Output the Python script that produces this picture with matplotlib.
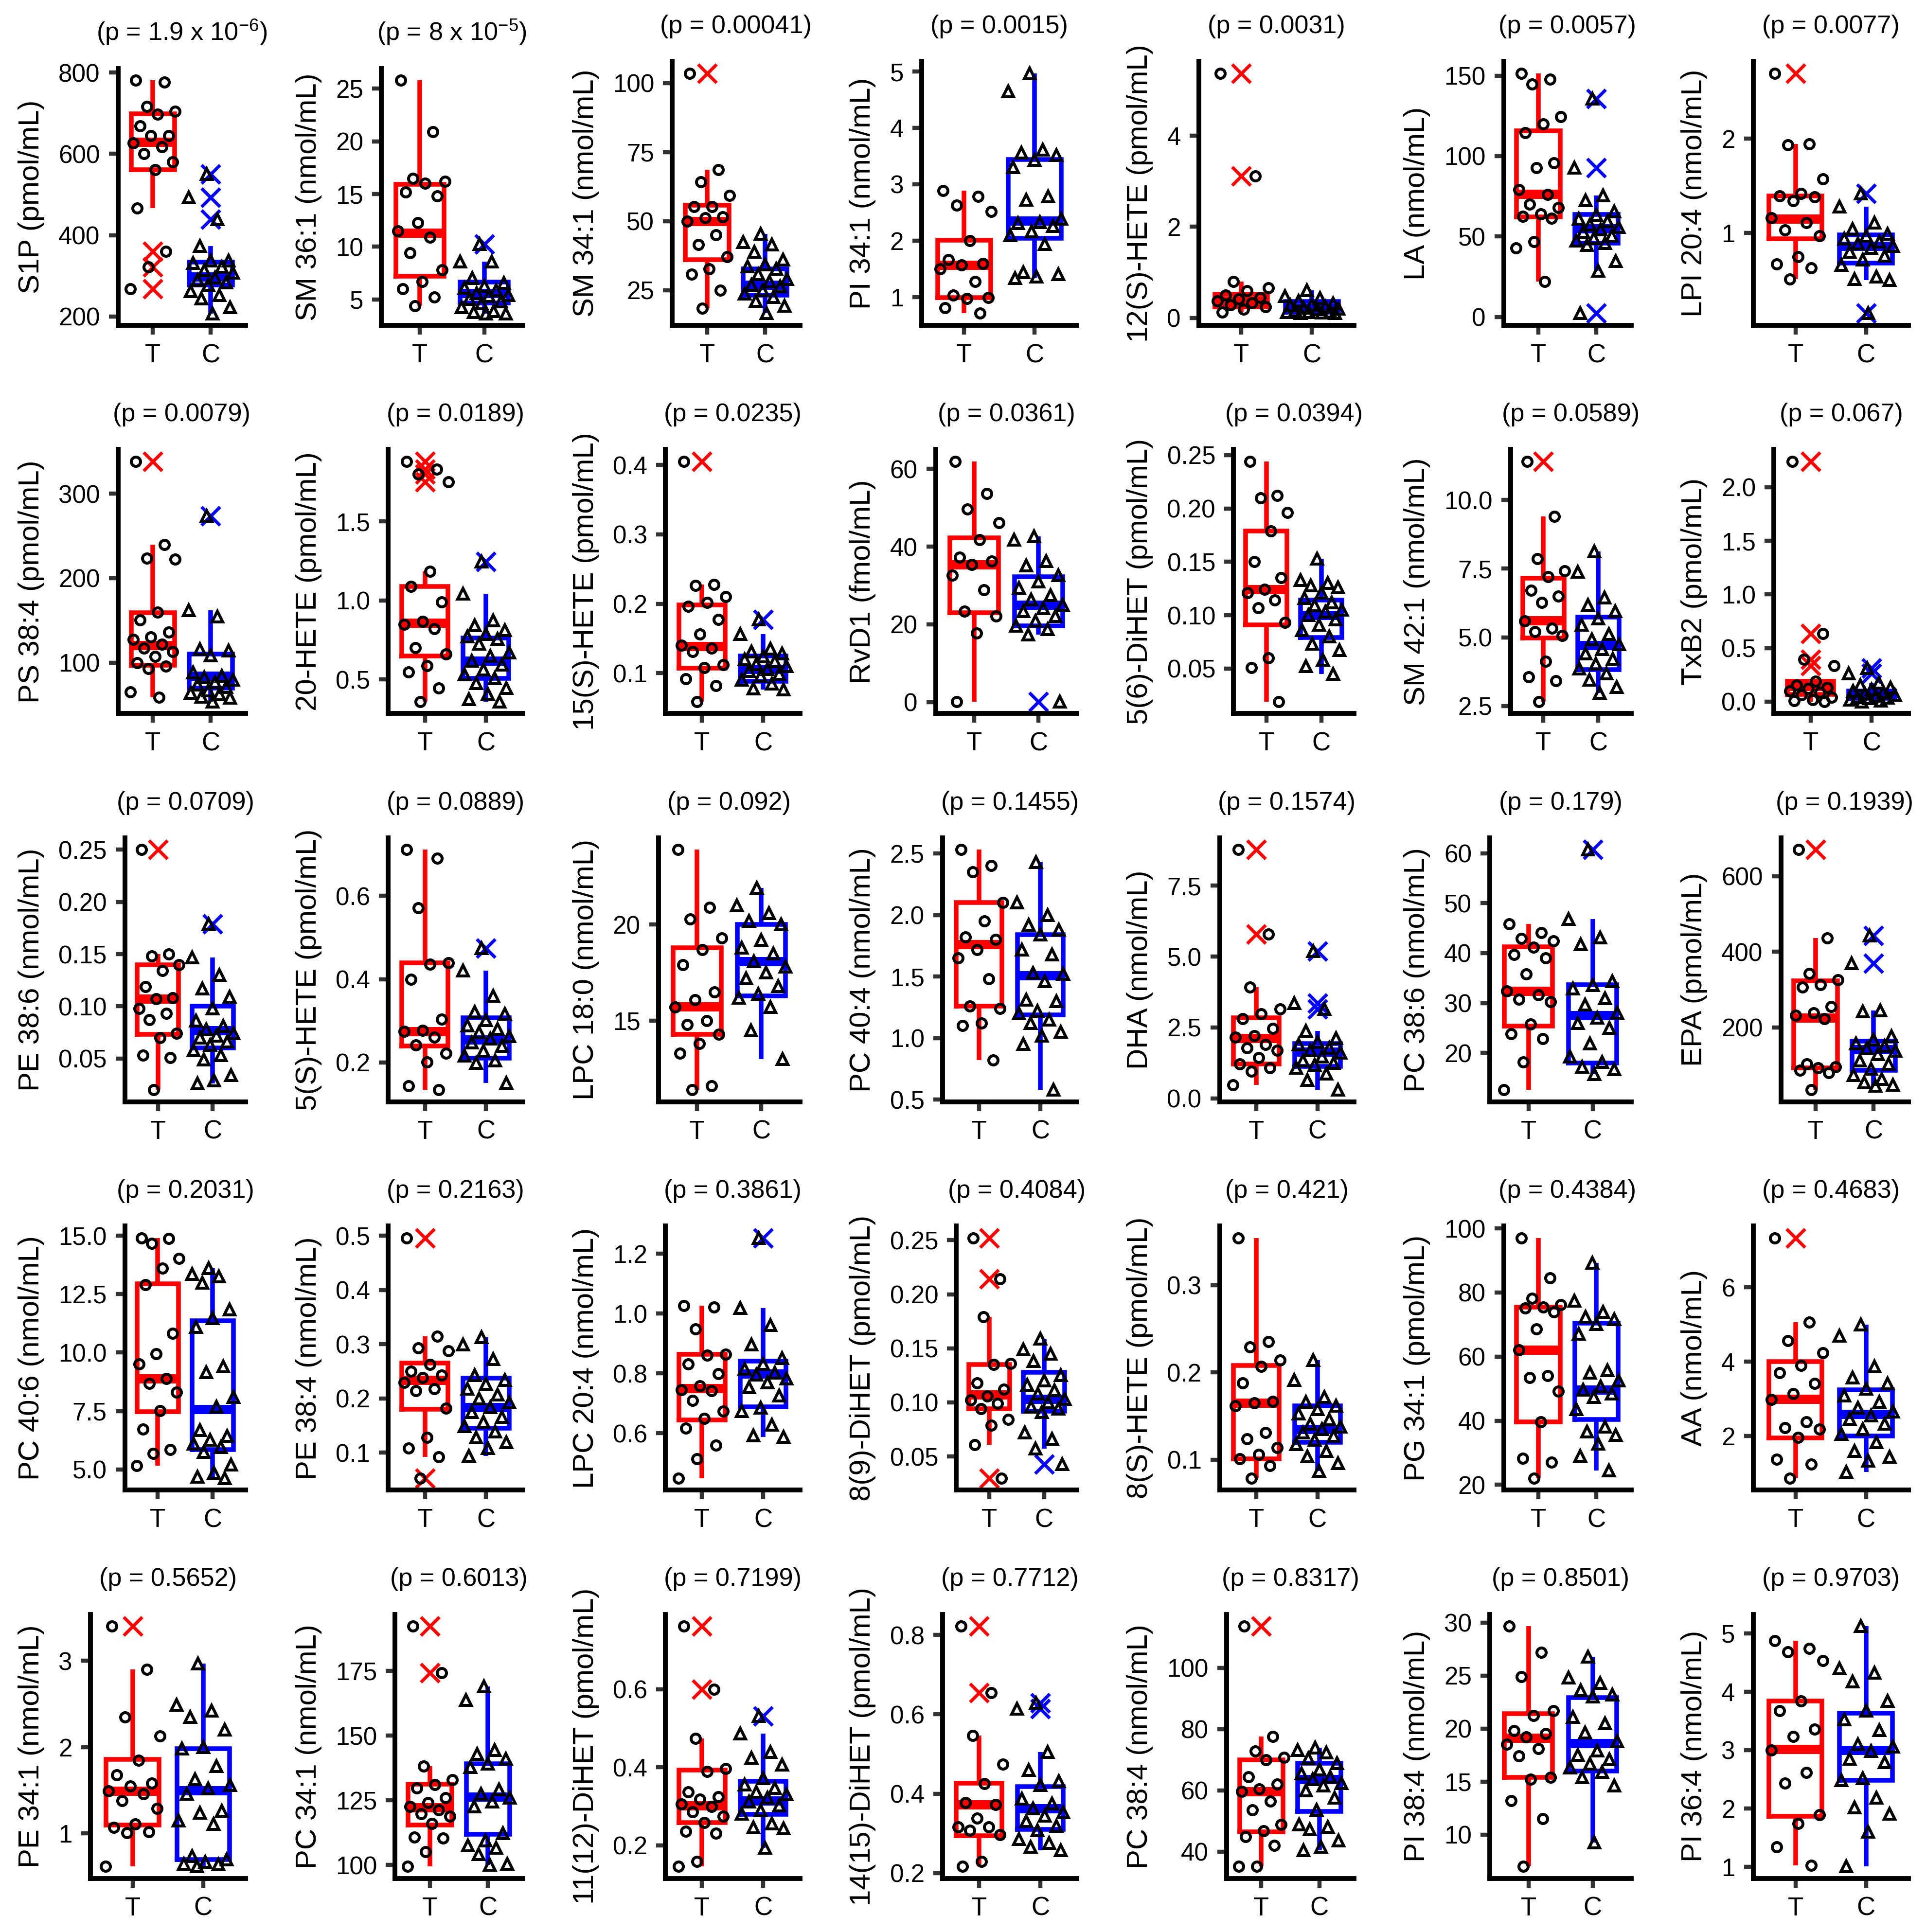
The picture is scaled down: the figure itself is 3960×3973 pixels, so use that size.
import numpy as np
import matplotlib
matplotlib.use('Agg')
import matplotlib.pyplot as plt

plt.rcParams['font.family'] = ['Liberation Sans', 'DejaVu Sans']
plt.rcParams['mathtext.fontset'] = 'custom'
plt.rcParams['mathtext.rm'] = 'Liberation Sans'
plt.rcParams['mathtext.it'] = 'Liberation Sans:italic'
plt.rcParams['mathtext.default'] = 'regular'

# ---------------- data ----------------
YLABELS = ["S1P (pmol/mL)", "SM 36:1 (nmol/mL)", "SM 34:1 (nmol/mL)", "PI 34:1 (nmol/mL)",
           "12(S)-HETE (pmol/mL)", "LA (nmol/mL)", "LPI 20:4 (nmol/mL)",
           "PS 38:4 (pmol/mL)", "20-HETE (pmol/mL)", "15(S)-HETE (pmol/mL)", "RvD1 (fmol/mL)",
           "5(6)-DiHET (pmol/mL)", "SM 42:1 (nmol/mL)", "TxB2 (pmol/mL)",
           "PE 38:6 (nmol/mL)", "5(S)-HETE (pmol/mL)", "LPC 18:0 (nmol/mL)", "PC 40:4 (nmol/mL)",
           "DHA (nmol/mL)", "PC 38:6 (nmol/mL)", "EPA (pmol/mL)",
           "PC 40:6 (nmol/mL)", "PE 38:4 (nmol/mL)", "LPC 20:4 (nmol/mL)", "8(9)-DiHET (pmol/mL)",
           "8(S)-HETE (pmol/mL)", "PG 34:1 (pmol/mL)", "AA (nmol/mL)",
           "PE 34:1 (nmol/mL)", "PC 34:1 (nmol/mL)", "11(12)-DiHET (pmol/mL)", "14(15)-DiHET (pmol/mL)",
           "PC 38:4 (nmol/mL)", "PI 38:4 (nmol/mL)", "PI 36:4 (nmol/mL)"]

P_TEXT = ["1.9 x 10$^{-6}$", "8 x 10$^{-5}$", "0.00041", "0.0015", "0.0031", "0.0057", "0.0077",
          "0.0079", "0.0189", "0.0235", "0.0361", "0.0394", "0.0589", "0.067",
          "0.0709", "0.0889", "0.092", "0.1455", "0.1574", "0.179", "0.1939",
          "0.2031", "0.2163", "0.3861", "0.4084", "0.421", "0.4384", "0.4683",
          "0.5652", "0.6013", "0.7199", "0.7712", "0.8317", "0.8501", "0.9703"]

GROUPS = ["T", "C"]

TICKS = [["200", "400", "600", "800"], ["5", "10", "15", "20", "25"], ["25", "50", "75", "100"],
         ["1", "2", "3", "4", "5"], ["0", "2", "4"], ["0", "50", "100", "150"], ["1", "2"],
         ["100", "200", "300"], ["0.5", "1.0", "1.5"], ["0.1", "0.2", "0.3", "0.4"], ["0", "20", "40", "60"],
         ["0.05", "0.10", "0.15", "0.20", "0.25"], ["2.5", "5.0", "7.5", "10.0"], ["0.0", "0.5", "1.0", "1.5", "2.0"],
         ["0.05", "0.10", "0.15", "0.20", "0.25"], ["0.2", "0.4", "0.6"], ["15", "20"],
         ["0.5", "1.0", "1.5", "2.0", "2.5"], ["0.0", "2.5", "5.0", "7.5"], ["20", "30", "40", "50", "60"],
         ["200", "400", "600"],
         ["5.0", "7.5", "10.0", "12.5", "15.0"], ["0.1", "0.2", "0.3", "0.4", "0.5"], ["0.6", "0.8", "1.0", "1.2"],
         ["0.05", "0.10", "0.15", "0.20", "0.25"], ["0.1", "0.2", "0.3"], ["20", "40", "60", "80", "100"],
         ["2", "4", "6"],
         ["1", "2", "3"], ["100", "125", "150", "175"], ["0.2", "0.4", "0.6"], ["0.2", "0.4", "0.6", "0.8"],
         ["40", "60", "80", "100"], ["10", "15", "20", "25", "30"], ["1", "2", "3", "4", "5"]]

# box statistics [q1, median, q3]
T_BOX = [[561, 629, 699], [7.2, 11.3, 15.93], [36.1, 49.9, 55.8], [0.99, 1.57, 2.01], [0.24, 0.37, 0.52],
         [62.3, 76.4, 115.6], [0.94, 1.15, 1.39],
         [97.1, 120.7, 159], [0.648, 0.858, 1.09], [0.107, 0.139, 0.198], [23, 35.4, 42.2],
         [0.091, 0.124, 0.179], [4.97, 5.61, 7.15], [0.068, 0.143, 0.189],
         [0.073, 0.107, 0.14], [0.239, 0.274, 0.439], [14.28, 15.73, 18.8], [1.26, 1.76, 2.1],
         [1.21, 2.12, 2.85], [25.4, 32.4, 41.3], [93, 226, 323],
         [7.47, 8.89, 12.95], [0.18, 0.234, 0.265], [0.645, 0.75, 0.864], [0.094, 0.107, 0.135],
         [0.101, 0.165, 0.208], [39.7, 62.1, 75.5], [1.94, 2.99, 4.0],
         [1.1, 1.49, 1.86], [115.4, 122.2, 131.3], [0.258, 0.302, 0.393], [0.294, 0.372, 0.426],
         [46.4, 59.6, 70], [15.4, 19.1, 21.4], [1.87, 3.02, 3.84]]

C_BOX = [[277, 298, 334], [4.65, 5.58, 6.67], [23.2, 26.8, 32.6], [2.04, 2.35, 3.44], [0.12, 0.21, 0.36],
         [46, 55, 63.8], [0.68, 0.86, 0.98],
         [69.8, 84.2, 110], [0.508, 0.617, 0.764], [0.088, 0.106, 0.125], [19.6, 25, 32.2],
         [0.079, 0.1, 0.114], [3.82, 4.71, 5.73], [0.03, 0.06, 0.098],
         [0.06, 0.077, 0.1], [0.21, 0.254, 0.307], [16.3, 18.1, 20.0], [1.19, 1.51, 1.84],
         [1.12, 1.64, 1.94], [18.0, 27.5, 33.7], [87, 142, 164],
         [5.84, 7.57, 11.36], [0.145, 0.184, 0.237], [0.689, 0.799, 0.842], [0.092, 0.103, 0.128],
         [0.12, 0.135, 0.162], [40.4, 49.6, 70.5], [2.0, 2.58, 3.24],
         [0.7, 1.5, 1.98], [111.8, 126.4, 139.2], [0.279, 0.314, 0.364], [0.31, 0.363, 0.418],
         [53.2, 63.6, 68.8], [16.0, 18.6, 22.9], [2.48, 3.0, 3.63]]

# boxplot outliers (crosses)
T_OUT = [[360, 322, 268], [], [103.5], [], [5.37, 3.11], [], [2.69],
         [338], [1.88, 1.83, 1.80, 1.75], [0.405], [], [], [11.4], [2.24, 0.632, 0.393, 0.336],
         [0.25], [], [], [], [8.77, 5.79], [], [670],
         [], [0.496, 0.053], [], [0.252, 0.214, 0.03], [], [], [7.33],
         [3.4], [192.2, 174.2], [0.761, 0.6], [0.822, 0.654], [113.6], [], []]

C_OUT = [[550, 493, 439], [10.25], [], [], [], [135.7, 92.7, 2.2], [1.42, 0.15],
         [273.5], [1.246], [0.177], [0.1], [], [], [0.31, 0.26],
         [0.179], [0.474], [], [], [5.19, 3.35, 3.15], [60.7], [443, 369],
         [], [], [1.253], [0.043], [], [], [],
         [], [], [0.531], [0.629, 0.614], [], [], []]

# all observations (jittered points)
T_PTS = [
    [781, 776, 716, 704, 697, 668, 645, 645, 627, 617, 601, 580, 561, 466, 360, 322, 268],
    [25.8, 20.9, 16.5, 16.2, 16.0, 15.2, 14.8, 12.3, 11.5, 10.9, 9.4, 7.8, 6.7, 6.0, 5.2, 4.4],
    [103.5, 68.5, 64.1, 59.2, 55.2, 55.2, 51.6, 51.2, 49.9, 45, 41.4, 37, 32.6, 30.8, 25, 18.4],
    [2.89, 2.78, 2.63, 2.52, 2.0, 1.66, 1.59, 1.57, 1.5, 1.27, 1.03, 0.99, 0.97, 0.81, 0.71],
    [5.37, 3.11, 0.8, 0.66, 0.59, 0.5, 0.45, 0.41, 0.37, 0.33, 0.29, 0.24, 0.19, 0.13],
    [151.5, 147.7, 144.7, 124.4, 119.8, 114.6, 95.7, 92.7, 79.1, 76.1, 70.1, 67.8, 64.1, 62.6, 61.4, 46.7, 42.9, 21.9],
    [2.69, 1.94, 1.93, 1.57, 1.42, 1.39, 1.38, 1.34, 1.16, 1.11, 1.03, 0.97, 0.75, 0.67, 0.63, 0.51],
    [338, 239.6, 223.7, 222.3, 159.9, 150.4, 136, 130.2, 127.3, 121.6, 117.3, 112.9, 107.2, 100, 95.7, 92.8, 65.5, 59.1],
    [1.88, 1.83, 1.80, 1.75, 1.184, 1.09, 0.99, 0.866, 0.85, 0.82, 0.70, 0.66, 0.586, 0.546, 0.445, 0.36],
    [0.405, 0.228, 0.226, 0.21, 0.202, 0.196, 0.177, 0.156, 0.14, 0.136, 0.131, 0.112, 0.108, 0.092, 0.082, 0.059],
    [61.9, 53.7, 49.6, 46.1, 41.7, 37.3, 36.3, 35.4, 32.6, 28.8, 23.4, 22.1, 17.7, 0.1],
    [0.244, 0.212, 0.21, 0.196, 0.179, 0.15, 0.135, 0.124, 0.121, 0.114, 0.107, 0.093, 0.06, 0.051, 0.019],
    [11.4, 9.4, 7.86, 7.42, 7.2, 6.71, 6.49, 6.26, 5.6, 5.33, 5.2, 5.06, 4.13, 3.55, 3.42, 2.66],
    [2.24, 0.632, 0.393, 0.336, 0.19, 0.155, 0.132, 0.12, 0.098, 0.086, 0.064, 0.041, 0.018, 0.007, 0.0],
    [0.25, 0.15, 0.148, 0.14, 0.134, 0.119, 0.108, 0.107, 0.098, 0.093, 0.087, 0.074, 0.07, 0.053, 0.051, 0.02],
    [0.711, 0.691, 0.571, 0.439, 0.436, 0.4, 0.304, 0.277, 0.274, 0.26, 0.242, 0.222, 0.201, 0.143, 0.134],
    [23.9, 20.9, 20.3, 19.3, 18.7, 17.9, 16.5, 16.1, 15.7, 15.0, 14.8, 14.3, 13.8, 13.3, 11.6, 11.4],
    [2.53, 2.4, 2.35, 2.1, 1.95, 1.82, 1.8, 1.72, 1.65, 1.48, 1.26, 1.24, 1.12, 1.1, 0.82],
    [8.77, 5.79, 3.93, 3.15, 2.98, 2.81, 2.46, 2.2, 2.16, 1.9, 1.77, 1.69, 1.43, 1.21, 1.08, 0.95, 0.48],
    [45.8, 44.1, 42.9, 42.4, 41.2, 39.7, 39.0, 35.8, 32.4, 31.6, 30.7, 30.2, 25.8, 23.8, 22.8, 18.2, 12.6],
    [670, 437, 343, 326, 313, 307, 255, 239, 232, 223, 103, 96, 93, 87, 80, 35],
    [14.9, 14.87, 14.66, 14.03, 13.6, 12.9, 10.83, 9.94, 9.5, 8.89, 8.68, 8.31, 7.52, 6.73, 5.84, 5.68, 5.16],
    [0.496, 0.315, 0.293, 0.288, 0.263, 0.25, 0.243, 0.238, 0.229, 0.218, 0.214, 0.182, 0.128, 0.108, 0.092, 0.053],
    [1.026, 1.022, 0.949, 0.864, 0.86, 0.831, 0.799, 0.758, 0.746, 0.742, 0.71, 0.673, 0.649, 0.616, 0.56, 0.515, 0.45],
    [0.252, 0.214, 0.179, 0.136, 0.135, 0.118, 0.112, 0.106, 0.102, 0.099, 0.094, 0.084, 0.079, 0.061, 0.03],
    [0.354, 0.235, 0.229, 0.214, 0.207, 0.188, 0.167, 0.165, 0.162, 0.131, 0.124, 0.114, 0.106, 0.101, 0.093, 0.079],
    [97, 84.6, 78.1, 76.2, 75.5, 75.1, 73.9, 68.6, 62.1, 54.1, 53.4, 49.2, 39.7, 28.2, 27.1, 22.1],
    [7.33, 5.06, 4.56, 4.23, 3.9, 3.7, 3.41, 3.14, 2.98, 2.38, 2.22, 2.18, 1.95, 1.36, 1.23, 0.86],
    [3.4, 2.9, 2.35, 2.13, 1.85, 1.68, 1.58, 1.55, 1.49, 1.46, 1.38, 1.29, 1.11, 1.07, 1.02, 1.01, 0.62],
    [192.2, 174.2, 138.2, 133.0, 131.1, 129.7, 125.9, 124.1, 122.6, 121.2, 119.8, 118.9, 116.0, 110.8, 110.4, 105.2, 99.5],
    [0.761, 0.6, 0.474, 0.396, 0.389, 0.336, 0.324, 0.318, 0.305, 0.299, 0.286, 0.274, 0.258, 0.236, 0.23, 0.158, 0.146],
    [0.822, 0.654, 0.546, 0.474, 0.425, 0.378, 0.372, 0.338, 0.316, 0.316, 0.307, 0.297, 0.229, 0.217],
    [113.6, 77.6, 72.8, 70.8, 70, 64.4, 62, 60.4, 59.6, 56.4, 53.6, 48.8, 46.8, 44.8, 42, 35.2, 35.2],
    [29.65, 27.2, 24.9, 21.7, 21.2, 19.8, 19.5, 19.2, 18.5, 18.1, 17.4, 15.4, 15.2, 13.2, 11.5, 7.0],
    [4.87, 4.74, 4.68, 4.53, 3.84, 3.67, 3.36, 3.23, 3.0, 2.62, 2.43, 1.89, 1.74, 1.34, 1.03],
]

C_PTS = [
    [550, 493, 439, 373, 337, 337, 331, 322, 313, 307, 295, 289, 283, 277, 262, 253, 244, 223, 207],
    [10.25, 8.6, 8.6, 7.0, 6.55, 6.3, 6.1, 5.85, 5.6, 5.4, 5.3, 5.05, 4.8, 4.6, 4.25, 3.9, 3.8, 3.65, 3.65],
    [45.4, 42.3, 41.4, 38.8, 36.1, 34.3, 33.5, 32.6, 30.8, 29.0, 28.1, 26.8, 26.4, 25, 23.7, 22.4, 21.0, 19.3, 16.6],
    [4.97, 4.65, 3.61, 3.56, 3.52, 3.43, 3.30, 2.78, 2.72, 2.39, 2.33, 2.31, 2.26, 2.16, 2.09, 1.94, 1.44, 1.40, 1.36, 1.33],
    [0.61, 0.48, 0.43, 0.37, 0.32, 0.29, 0.27, 0.24, 0.22, 0.2, 0.19, 0.16, 0.14, 0.13, 0.12, 0.11, 0.1, 0.1],
    [135.7, 92.7, 75.4, 72.4, 65.6, 63.3, 61, 59.5, 57.3, 55.8, 54.3, 52.8, 50.5, 49, 47.5, 46, 44.5, 34.7, 28.6, 2.2],
    [1.42, 1.28, 1.11, 1.04, 0.99, 0.97, 0.94, 0.91, 0.89, 0.86, 0.84, 0.8, 0.76, 0.72, 0.66, 0.54, 0.51, 0.50, 0.15],
    [273.5, 161.9, 154.7, 115.8, 114.4, 108.6, 88.5, 84.2, 82.7, 79.9, 77, 74.1, 71.2, 66.9, 64, 62.6, 59.7, 58.3, 53.9],
    [1.246, 1.044, 0.873, 0.842, 0.811, 0.788, 0.772, 0.757, 0.726, 0.671, 0.648, 0.617, 0.594, 0.562, 0.531, 0.508, 0.477, 0.446, 0.407, 0.376, 0.36],
    [0.177, 0.156, 0.135, 0.131, 0.128, 0.124, 0.12, 0.117, 0.113, 0.11, 0.106, 0.103, 0.099, 0.096, 0.09, 0.085, 0.078, 0.076],
    [42.6, 41.7, 36.3, 35.1, 32.6, 31, 29.4, 27.5, 26.3, 25, 24.1, 23.4, 22.1, 20.9, 19.6, 18.7, 17.4, 0.1],
    [0.153, 0.133, 0.13, 0.128, 0.126, 0.121, 0.116, 0.112, 0.109, 0.105, 0.103, 0.1, 0.096, 0.091, 0.086, 0.08, 0.073, 0.067, 0.058, 0.052, 0.045],
    [8.13, 7.38, 6.44, 6.17, 5.95, 5.69, 5.46, 5.11, 4.93, 4.75, 4.57, 4.4, 4.22, 4.04, 3.86, 3.68, 3.46, 3.19, 2.97],
    [0.31, 0.26, 0.177, 0.155, 0.132, 0.114, 0.098, 0.086, 0.075, 0.064, 0.052, 0.041, 0.036, 0.03, 0.018, 0.007, 0.0],
    [0.179, 0.147, 0.13, 0.117, 0.109, 0.098, 0.086, 0.081, 0.078, 0.074, 0.072, 0.07, 0.066, 0.063, 0.058, 0.053, 0.049, 0.034, 0.029, 0.026],
    [0.474, 0.421, 0.36, 0.321, 0.316, 0.301, 0.289, 0.28, 0.272, 0.263, 0.257, 0.248, 0.239, 0.228, 0.216, 0.204, 0.198, 0.151],
    [21.9, 21.0, 20.6, 20.2, 20.0, 19.2, 18.8, 18.5, 18.1, 17.8, 17.5, 17.2, 16.8, 16.4, 16.2, 15.7, 14.5, 13.0],
    [2.43, 2.1, 2.0, 1.92, 1.88, 1.84, 1.72, 1.68, 1.53, 1.52, 1.46, 1.31, 1.3, 1.22, 1.2, 1.15, 1.12, 1.05, 1.02, 0.95, 0.58],
    [5.19, 3.35, 3.15, 2.38, 2.12, 1.99, 1.9, 1.77, 1.69, 1.6, 1.47, 1.34, 1.25, 1.17, 1.08, 0.86, 0.65, 0.3],
    [60.7, 46.8, 43.1, 41.7, 34.3, 33.6, 32.9, 30.9, 29.7, 28.0, 27.0, 26.0, 25.0, 21.9, 19.2, 18.2, 17.2, 16.7, 15.7],
    [443, 369, 245, 242, 177, 168, 158, 151, 145, 138, 129, 112, 103, 90, 74, 64, 54, 48, 45],
    [13.6, 13.35, 13.25, 12.98, 11.83, 11.46, 11.09, 9.41, 9.15, 8.1, 7.68, 6.68, 6.42, 6.26, 6.1, 5.95, 5.74, 5.21, 4.84, 4.68, 4.63],
    [0.313, 0.299, 0.272, 0.243, 0.234, 0.227, 0.218, 0.207, 0.2, 0.193, 0.184, 0.175, 0.166, 0.157, 0.149, 0.139, 0.128, 0.119, 0.108, 0.094],
    [1.253, 1.018, 0.961, 0.896, 0.851, 0.831, 0.815, 0.803, 0.795, 0.782, 0.77, 0.754, 0.726, 0.685, 0.673, 0.628, 0.592, 0.588],
    [0.159, 0.149, 0.145, 0.138, 0.125, 0.12, 0.116, 0.111, 0.108, 0.103, 0.1, 0.096, 0.094, 0.091, 0.072, 0.066, 0.057, 0.043],
    [0.214, 0.191, 0.172, 0.166, 0.162, 0.158, 0.153, 0.146, 0.141, 0.138, 0.135, 0.131, 0.127, 0.123, 0.118, 0.11, 0.104, 0.096, 0.087],
    [89.2, 77.4, 73.9, 72.4, 71.7, 70.1, 67.1, 55.7, 54.9, 52.6, 50.7, 49.6, 48.4, 47.3, 43.5, 38.1, 36.6, 35.5, 32.8, 29.0, 24.4],
    [4.99, 4.69, 3.87, 3.57, 3.41, 3.27, 3.08, 2.91, 2.75, 2.65, 2.55, 2.45, 2.32, 2.18, 2.05, 1.82, 1.59, 1.43, 1.33, 1.03],
    [2.97, 2.49, 2.42, 2.35, 2.2, 2.0, 1.98, 1.78, 1.63, 1.56, 1.52, 1.46, 1.26, 1.24, 1.15, 1.11, 0.74, 0.7, 0.67, 0.65, 0.64, 0.62],
    [168.9, 163.7, 144.3, 142.9, 141.0, 139.2, 137.7, 129.2, 127.4, 125.9, 124.5, 122.6, 112.3, 109.4, 107.5, 106.6, 104.2, 100.5, 100.0],
    [0.531, 0.486, 0.439, 0.424, 0.406, 0.371, 0.355, 0.346, 0.336, 0.33, 0.321, 0.311, 0.302, 0.289, 0.28, 0.255, 0.246, 0.243, 0.193],
    [0.629, 0.614, 0.505, 0.459, 0.431, 0.421, 0.387, 0.375, 0.363, 0.353, 0.344, 0.331, 0.319, 0.307, 0.285, 0.276, 0.266, 0.257],
    [74, 73.2, 72.4, 70.4, 68.8, 66.8, 65.6, 64.4, 63.6, 62.4, 61.6, 60, 57.6, 53.6, 48.8, 48, 47.2, 43.6, 41.6, 40.4],
    [26.75, 24.8, 24.3, 23.6, 23.2, 23.0, 21.1, 20.5, 19.6, 18.8, 17.9, 17.5, 17.1, 16.7, 16.3, 15.9, 15.4, 14.6, 9.25],
    [5.12, 4.4, 4.32, 4.17, 3.84, 3.67, 3.52, 3.34, 3.1, 3.06, 2.98, 2.85, 2.79, 2.52, 2.48, 2.18, 2.02, 1.91, 1.6, 1.01],
]

# ---------------- style / layout ----------------
W, H = 3960, 3973
DPI = 254
RED, BLUE = '#FF0000', '#0000FF'
TICK_COL = '#333333'
NCOL = 7
COL_PITCH = 569.8
ROW_PITCH = 798.4
BOTTOM0 = 669
RIGHT0 = 505
LEFT_MARGIN = 37

fig = plt.figure(figsize=(W / DPI, H / DPI), dpi=DPI)
fig.patch.set_facecolor('white')


def jitter_offsets(n, phase):
    return (((np.arange(n) * 0.6180339887 + phase) % 1.0) - 0.5) * 0.8


def group_stats(box, outliers, pts):
    inner = [v for v in pts if v not in outliers]
    return dict(q1=box[0], med=box[1], q3=box[2], whislo=min(inner), whishi=max(inner),
                fliers=outliers)


axes = []
for i in range(len(YLABELS)):
    r, c = divmod(i, NCOL)
    bottom_px = BOTTOM0 + r * ROW_PITCH
    h_px = 528 if '$' in P_TEXT[i] else 543
    right_px = RIGHT0 + c * COL_PITCH
    left_px = right_px - 260
    ax = fig.add_axes([left_px / W, 1 - bottom_px / H, (right_px - left_px) / W, h_px / H])
    axes.append(ax)

    for g, (box, outs, pts, col, mk, ph) in enumerate([
            (T_BOX[i], T_OUT[i], T_PTS[i], RED, 'o', 0.13),
            (C_BOX[i], C_OUT[i], C_PTS[i], BLUE, '^', 0.41)]):
        pos = g + 1
        st = group_stats(box, outs, pts)
        ax.bxp([st], positions=[pos], widths=0.75, showcaps=False, manage_ticks=False,
               boxprops=dict(color=col, linewidth=2.7, solid_joinstyle='miter'),
               whiskerprops=dict(color=col, linewidth=2.7, solid_capstyle='butt'),
               medianprops=dict(color=col, linewidth=5.4, solid_capstyle='butt'),
               flierprops=dict(marker='x', markeredgecolor=col, markersize=10.5,
                               markeredgewidth=1.9, linestyle='none'),
               zorder=2)
        xs = pos + jitter_offsets(len(pts), ph)
        ax.plot(xs, pts, linestyle='none', marker=mk, markerfacecolor='none',
                markeredgecolor='black', markersize=5.4 if mk == 'o' else 6.2,
                markeredgewidth=1.7, zorder=3, clip_on=False)

    allv = T_PTS[i] + C_PTS[i]
    lo, hi = min(allv), max(allv)
    span = hi - lo
    ax.set_ylim(lo - 0.05 * span, hi + 0.05 * span)
    ax.set_xlim(0.4, 2.6)
    ax.set_xticks([1, 2])
    ax.set_xticklabels(GROUPS)
    ax.set_yticks([float(t) for t in TICKS[i]])
    ax.set_yticklabels(TICKS[i])
    ax.tick_params(axis='both', direction='out', length=5.5, width=2.4, color=TICK_COL,
                   labelcolor='black')
    ax.tick_params(axis='y', labelsize=14.5, pad=5)
    ax.tick_params(axis='x', labelsize=15, pad=5)
    for s in ['top', 'right']:
        ax.spines[s].set_visible(False)
    for s in ['left', 'bottom']:
        ax.spines[s].set_linewidth(2.8)
        ax.spines[s].set_color('black')
    ax.set_ylabel(YLABELS[i], fontsize=17, labelpad=8)
    ax.set_title('(p = ' + P_TEXT[i] + ')', fontsize=14.8, pad=16.5)
    ax.set_facecolor('none')

# place each panel so that its axis labels start at the same offset in its cell
fig.canvas.draw()
renderer = fig.canvas.get_renderer()
for i, ax in enumerate(axes):
    c = i % NCOL
    pos = ax.get_position()
    tb = ax.yaxis.get_tightbbox(renderer)
    ext = pos.x0 * W - tb.x0
    left_px = c * COL_PITCH + LEFT_MARGIN + ext
    right_px = RIGHT0 + c * COL_PITCH
    ax.set_position([left_px / W, pos.y0, (right_px - left_px) / W, pos.height])

fig.savefig('out.png', dpi=DPI, facecolor='white')
